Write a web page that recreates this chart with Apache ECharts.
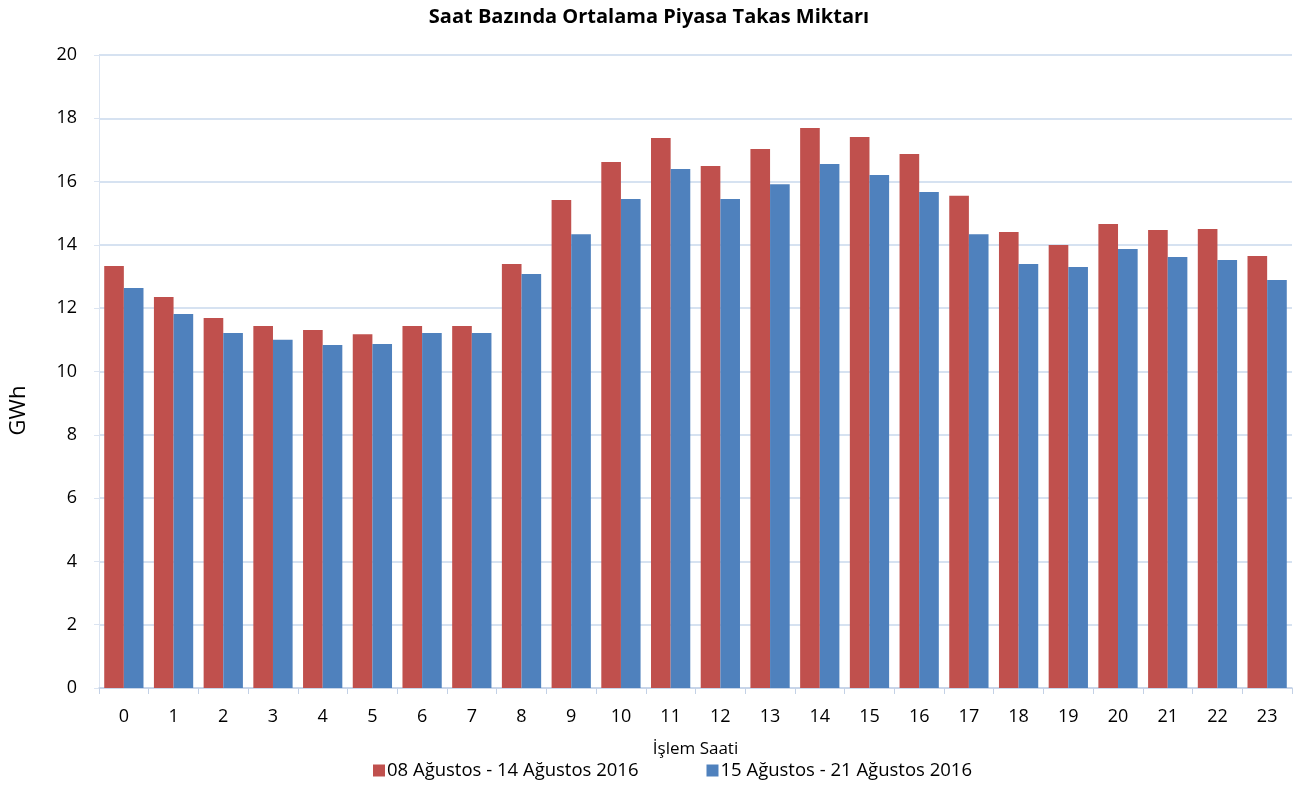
<!DOCTYPE html>
<html>
<head>
<meta charset="utf-8">
<script src="https://cdn.jsdelivr.net/npm/echarts@6/dist/echarts.min.js"></script>
<style>html,body{margin:0;padding:0;background:#fff;}#c{width:1298px;height:787px;}</style>
</head>
<body>
<div id="c"></div>
<script>
const categories = ['0','1','2','3','4','5','6','7','8','9','10','11','12','13','14','15','16','17','18','19','20','21','22','23'];
const series1Name = '08 Ağustos - 14 Ağustos 2016';
const series2Name = '15 Ağustos - 21 Ağustos 2016';
const series1 = [13.33,12.35,11.69,11.44,11.31,11.18,11.44,11.44,13.40,15.42,16.62,17.38,16.49,17.03,17.69,17.41,16.87,15.55,14.41,14.00,14.66,14.47,14.50,13.65];
const series2 = [12.64,11.82,11.22,11.00,10.84,10.87,11.22,11.22,13.08,14.34,15.45,16.40,15.45,15.92,16.56,16.21,15.67,14.34,13.40,13.30,13.87,13.62,13.52,12.89];
const yTicks = [0,2,4,6,8,10,12,14,16,18,20];

const font = 'Open Sans';
const chart = echarts.init(document.getElementById('c'));
chart.setOption({
  animation: false,
  textStyle: {fontFamily: font},
  title: {
    text: 'Saat Bazında Ortalama Piyasa Takas Miktarı',
    left: 'center', top: 2,
    textStyle: {fontFamily: font, fontSize: 20, fontWeight: 'bold', color: '#000'}
  },
  legend: {
    bottom: 2, left: 368,
    itemWidth: 12, itemHeight: 12, itemGap: 68,
    icon: 'rect',
    textStyle: {fontFamily: font, fontSize: 18.5, color: '#000', padding: [0,0,0,-3]},
    data: [series1Name, series2Name]
  },
  grid: {left: 97, right: 6, top: 55, bottom: 99, containLabel: false},
  xAxis: {
    type: 'category',
    data: categories,
    name: 'İşlem Saati',
    nameLocation: 'middle',
    nameGap: 53,
    nameTextStyle: {fontFamily: font, fontSize: 17, color: '#000'},
    axisLine: {lineStyle: {color: '#c3d1e6', width: 1.5}},
    axisTick: {show: true, length: 6, lineStyle: {color: '#c3d1e6'}},
    axisLabel: {fontFamily: font, fontSize: 18, color: '#000', margin: 20}
  },
  yAxis: {
    type: 'value',
    min: 0, max: 20, interval: 2,
    name: 'GWh',
    nameLocation: 'middle',
    nameGap: 69,
    nameTextStyle: {fontFamily: font, fontSize: 22, color: '#000', padding: [0, 78, 0, 0]},
    axisLine: {show: true, lineStyle: {color: '#dbe4f1', width: 1}},
    axisTick: {show: true, length: 5, lineStyle: {color: '#dbe4f1'}},
    axisLabel: {fontFamily: font, fontSize: 18, color: '#000', margin: 22,
      formatter: v => yTicks.includes(v) ? String(v) : ''},
    splitLine: {lineStyle: {color: '#c9d8ec', width: 1.5}}
  },
  series: [
    {name: series1Name, type: 'bar', data: series1, barGap: '0%', barCategoryGap: '21%',
     itemStyle: {color: '#c0504d'}},
    {name: series2Name, type: 'bar', data: series2,
     itemStyle: {color: '#4f81bd'}}
  ]
});
</script>
</body>
</html>
